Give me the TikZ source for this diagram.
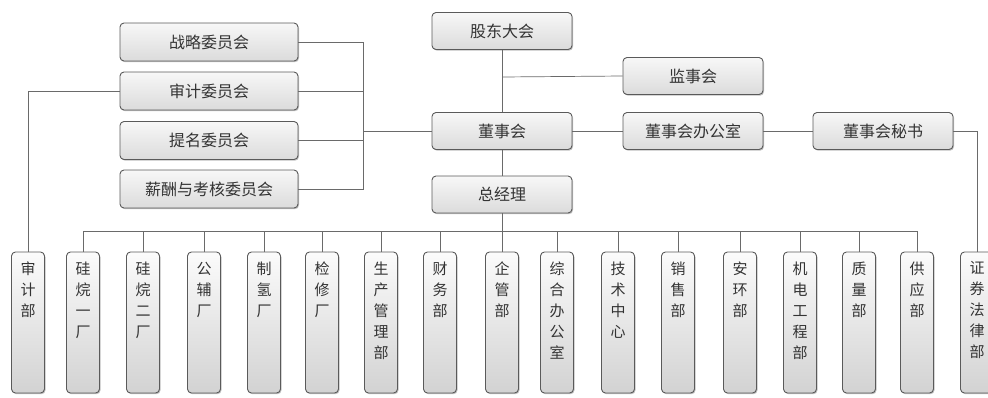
\documentclass[tikz,border=0pt]{standalone}
\usepackage{fontspec}
\newfontfamily\cjk{Noto Sans CJK SC}
\usetikzlibrary{shadows}
\definecolor{boxline}{HTML}{5A5A5A}
\definecolor{conn}{HTML}{6A6A6A}
\definecolor{txt}{HTML}{333333}
\tikzset{
  box/.style={draw=boxline, line width=0.9pt, rounded corners=4pt,
    top color=gray!6, bottom color=gray!28,
    drop shadow={shadow xshift=1pt, shadow yshift=-1.2pt, fill=gray!70, opacity=0.7},
    font=\cjk\fontsize{16}{18}\selectfont, text=txt, inner sep=0pt},
  wide/.style={box, minimum width=178pt, minimum height=38pt},
  mid/.style={box, minimum width=140pt, minimum height=37pt},
  vbox/.style={box, minimum width=33pt, minimum height=141pt, top color=gray!3, bottom color=gray!35},
  vtext/.style={anchor=north, align=center, inner sep=0pt, text=txt,
    font=\cjk\fontsize{15}{21}\selectfont},
  conn/.style={draw=conn, line width=0.7pt}
}
\begin{document}
\begin{tikzpicture}[x=1pt,y=-1pt]
\useasboundingbox (0,0) rectangle (988,397);
% top boxes
\node[mid] (gd) at (502,31) {股东大会};
\node[mid] (jsh) at (693,76) {监事会};
\node[mid] (dsh) at (502,131) {董事会};
\node[mid] (bgs) at (693,131) {董事会办公室};
\node[mid] (ms) at (883,131) {董事会秘书};
\node[mid] (zjl) at (502,194.5) {总经理};
% committees
\node[wide] (c1) at (209,42) {战略委员会};
\node[wide] (c2) at (209,91) {审计委员会};
\node[wide] (c3) at (209,140.5) {提名委员会};
\node[wide] (c4) at (209,189) {薪酬与考核委员会};
% coordinates
\coordinate (jn) at (502,77);
\coordinate (br1) at (363,42);
\coordinate (br4) at (363,189);
\coordinate (brm) at (363,131);
\coordinate (busL) at (83,231);
\coordinate (busR) at (917,231);
\coordinate (busM) at (502,231);
% connectors top
\draw[conn] (gd.south) -- (dsh.north);
\draw[conn] (jn) -- (jsh.west);
\draw[conn] (dsh.south) -- (zjl.north);
\draw[conn] (zjl.south) -- (busM);
\draw[conn] (dsh.east) -- (bgs.west);
\draw[conn] (bgs.east) -- (ms.west);
\draw[conn] (c1.east) -- (br1) -- (br4) -- (c4.east);
\draw[conn] (c2.east) -- (c2.east -| br1);
\draw[conn] (c3.east) -- (c3.east -| br1);
\draw[conn] (brm) -- (dsh.west);
\draw[conn] (busL) -- (busR);
% bottom boxes
\foreach \x/\n/\t in {
  28/b1/{审\\计\\部},
  83/b2/{硅\\烷\\一\\厂},
  143/b3/{硅\\烷\\二\\厂},
  204/b4/{公\\辅\\厂},
  264/b5/{制\\氢\\厂},
  322/b6/{检\\修\\厂},
  381/b7/{生\\产\\管\\理\\部},
  440/b8/{财\\务\\部},
  502/b9/{企\\管\\部},
  557/b10/{综\\合\\办\\公\\室},
  618/b11/{技\\术\\中\\心},
  678/b12/{销\\售\\部},
  740/b13/{安\\环\\部},
  800/b14/{机\\电\\工\\程\\部},
  859/b15/{质\\量\\部},
  917/b16/{供\\应\\部},
  977/b17/{证\\券\\法\\律\\部}}{
  \node[vbox] (\n) at (\x,322.5) {};
  \node[vtext] (t\n) at ([yshift=-10pt]\n.north) {\t};
}
\foreach \n in {b2,b3,b4,b5,b6,b7,b8,b9,b10,b11,b12,b13,b14,b15,b16}{
  \draw[conn] (\n.north |- busL) -- (\n.north);
}
\draw[conn] (c2.west) -| (b1.north);
\draw[conn] (ms.east) -| (b17.north);
\end{tikzpicture}
\end{document}
